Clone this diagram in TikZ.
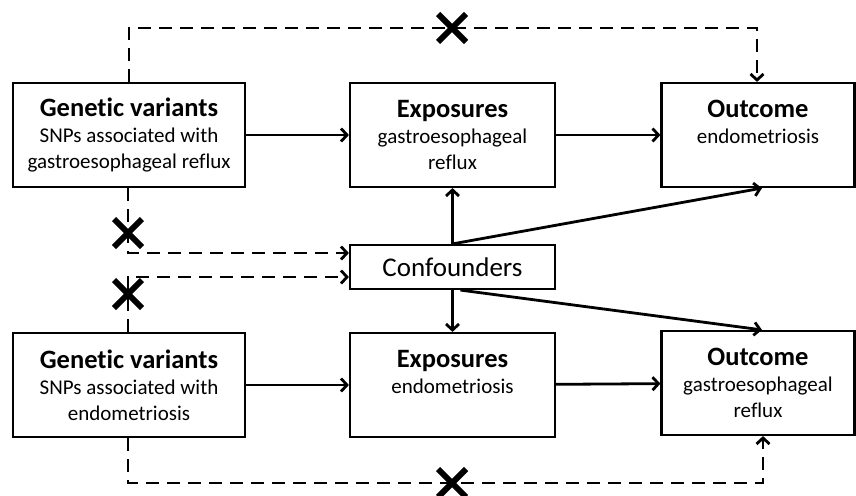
\documentclass[tikz,border=0pt]{standalone}
\usepackage{fontspec}
\setmainfont{Carlito}[Ligatures=NoCommon]
\usetikzlibrary{arrows.meta,shapes.misc}

\newcommand{\boxtitle}[1]{{\fontsize{26.5}{26}\selectfont\bfseries #1}}

\begin{document}
\begin{tikzpicture}[x=1pt, y=-1pt,
    >={Straight Barb[length=6pt,width=13pt]},
    box/.style={draw, line width=2.2pt, minimum height=104pt, inner sep=0pt,
        align=center, font=\fontsize{21}{26}\selectfont},
    link/.style={->, line width=2.8pt},
    nolink/.style={->, line width=2.8pt, dash pattern=on 13pt off 8pt},
    xmark/.style={cross out, draw, line width=6pt, minimum size=22pt, inner sep=0pt}]

    \useasboundingbox (0,0) rectangle (856,495);

    % Top row: reflux -> endometriosis
    \node[box, minimum width=232pt] (gv1) at (129,135) {\boxtitle{Genetic variants}\\SNPs associated with\\gastroesophageal reflux};
    \node[box, minimum width=205pt] (ex1) at (452.5,135) {\boxtitle{Exposures}\\gastroesophageal\\reflux};
    \node[box, minimum width=193pt] (oc1) at (758,135) {\boxtitle{Outcome}\\endometriosis\\\mbox{}};

    % Confounders in the middle
    \node[box, minimum width=205pt, minimum height=44pt, font=\fontsize{27}{30}\selectfont] (cf) at (452.5,267) {Confounders};

    % Bottom row: endometriosis -> reflux
    \node[box, minimum width=232pt] (gv2) at (129,385) {\boxtitle{Genetic variants}\\SNPs associated with\\endometriosis};
    \node[box, minimum width=205pt] (ex2) at (452.5,385) {\boxtitle{Exposures}\\endometriosis\\\mbox{}};
    \node[box, minimum width=193pt] (oc2) at (758,383) {\boxtitle{Outcome}\\gastroesophageal\\reflux};

    % Causal paths
    \draw[link] (gv1) -- (ex1);
    \draw[link] (ex1) -- (oc1);
    \draw[link] (gv2) -- (ex2);
    \draw[link] (ex2) -- (oc2);
    \draw[link] (cf.north) -- (ex1.south);
    \draw[link] (cf.north) -- ([xshift=4pt]oc1.south);
    \draw[link] (cf.south) -- (ex2.north);
    \draw[link] ([xshift=8pt]cf.south) -- ([xshift=4pt]oc2.north);

    % Excluded paths
    \node[xmark] (x1) at (452,28) {};
    \node[xmark] (x2) at (128,233) {};
    \node[xmark] (x3) at (128,294) {};
    \node[xmark] (x4) at (452,483) {};
    \draw[nolink] (gv1.north) |- (x1.center) -| ([xshift=-1pt]oc1.north);
    \draw[nolink] ([xshift=-1pt]gv1.south) -- (x2.center) |- ([yshift=14pt]cf.west);
    \draw[nolink] ([xshift=-1pt]gv2.north) -- (x3.center) |- ([yshift=-10pt]cf.west);
    \draw[nolink] ([xshift=-1pt]gv2.south) |- (x4.center) -| ([xshift=5pt]oc2.south);

\end{tikzpicture}
\end{document}
